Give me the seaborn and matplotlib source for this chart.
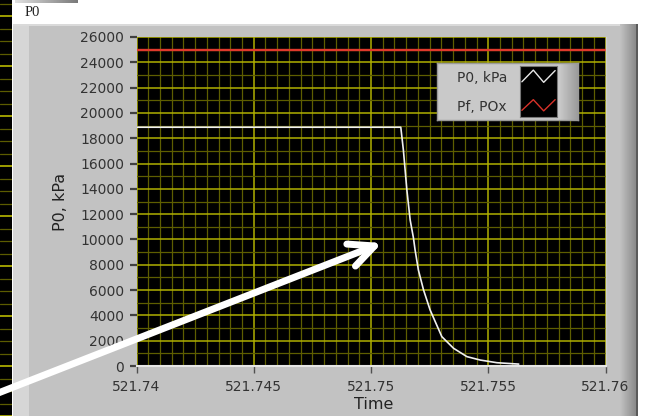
import numpy as np
import seaborn as sns
import matplotlib.pyplot as plt
from matplotlib.patches import Rectangle, FancyArrowPatch
from matplotlib.colors import LinearSegmentedColormap
from matplotlib.ticker import MultipleLocator

# P0 trace (time in s, pressure in kPa)
time_p0 = [521.74, 521.75127, 521.75138, 521.75153, 521.75167, 521.75181,
           521.75188, 521.75202, 521.75224, 521.75252, 521.75302, 521.75352,
           521.75409, 521.75466, 521.75537, 521.7563]
p0_kpa = [18870, 18870, 17080, 13900, 11540, 10120, 9170, 7590, 6010,
          4430, 2320, 1400, 740, 470, 260, 150]

# Pf, POx reference line
time_pf = [521.74, 521.76]
pf_pox = [25000, 25000]

x_ticks = [521.74, 521.745, 521.75, 521.755, 521.76]
x_tick_labels = ["521.74", "521.745", "521.75", "521.755", "521.76"]
y_ticks = list(range(0, 26001, 2000))
legend_labels = ["P0, kPa", "Pf, POx"]

sns.set_style("dark")
plt.rcParams['font.family'] = ['DejaVu Sans']

W, H = 649, 416


def px(x0, y0, x1, y1):
    """pixel box (top-left origin) -> figure fraction rect"""
    return [x0 / W, 1 - y1 / H, (x1 - x0) / W, (y1 - y0) / H]


def shade(a, c0, c1, n=60):
    """fill an axes with a left-to-right grey gradient"""
    cmap = LinearSegmentedColormap.from_list("g", [c0, c1])
    a.imshow(np.linspace(0, 1, n)[None, :], cmap=cmap, aspect='auto',
             extent=(0, 1, 0, 1))
    a.axis('off')


fig = plt.figure(figsize=(W / 100, H / 100), dpi=100, facecolor='white')

# grey front panel
fig.add_artist(Rectangle((13 / W, 0), (637 - 13) / W, (H - 24) / H,
                         transform=fig.transFigure, fc='#c2c2c2', ec='none', zorder=-3))
fig.add_artist(Rectangle((13 / W, 0), 16 / W, (H - 24) / H,
                         transform=fig.transFigure, fc='#d6d6d6', ec='none', zorder=-2))
fig.add_artist(Rectangle((13 / W, (H - 26) / H), (637 - 13) / W, 2 / H,
                         transform=fig.transFigure, fc='#dadada', ec='none', zorder=-2))
shade(fig.add_axes(px(620, 24, 636, 416)), '#c2c2c2', '#8a8a8a')
fig.add_artist(Rectangle((636 / W, 0), 1.5 / W, (H - 24) / H,
                         transform=fig.transFigure, fc='#5a5a5a', ec='none', zorder=2))

# bit of another graph peeking in at the left
strip = fig.add_axes(px(0, 0, 12, 416))
strip.set_facecolor('black')
strip.set_ylim(0, 416)
strip.yaxis.set_major_locator(MultipleLocator(50))
strip.yaxis.set_minor_locator(MultipleLocator(12.5))
strip.grid(which='major', axis='y', color='#b8b800', lw=1.2)
strip.grid(which='minor', axis='y', color='#5c5c00', lw=0.9)
strip.set_xticks([])
strip.tick_params(which='both', left=False, labelleft=False)
for s in strip.spines.values():
    s.set_visible(False)

# little slider bar at the top left
shade(fig.add_axes(px(15, 0, 78, 3)), '#e0e0e0', '#7a7a7a')

fig.text(25 / W, 1 - 13 / H, "P0", family='Liberation Serif', fontsize=10.5,
         va='center', ha='left', color='#222222')

# main graph
ax = fig.add_axes(px(136.5, 37, 605.5, 366))
ax.set_facecolor('black')
ax.set_axisbelow(True)

sns.lineplot(x=time_pf, y=pf_pox, ax=ax, color='#e0392c', lw=1.7)
sns.lineplot(x=time_p0, y=p0_kpa, ax=ax, color='#f0f0f0', lw=1.2)

ax.set_xlim(521.74, 521.76)
ax.set_ylim(0, 26000)
ax.set_xticks(x_ticks, x_tick_labels)
ax.set_yticks(y_ticks, [str(v) for v in y_ticks])
ax.xaxis.set_minor_locator(MultipleLocator(0.0005))
ax.yaxis.set_minor_locator(MultipleLocator(1000))
ax.grid(which='major', color='#b0b000', lw=1.1)
ax.grid(which='minor', color='#5e5e00', lw=0.9)
ax.tick_params(which='minor', length=0)
ax.tick_params(axis='y', which='major', length=5, width=1.6, color='#404040',
               pad=4, labelsize=10, labelcolor='#333333', left=True)
ax.tick_params(axis='x', which='major', length=5, width=1, color='#505050',
               pad=5, labelsize=10, labelcolor='#333333', bottom=True)

for side in ['top', 'left']:
    ax.spines[side].set_visible(False)
ax.spines['bottom'].set_color('#e6e6e6')
ax.spines['bottom'].set_linewidth(1.5)
ax.spines['right'].set_color('#d0d0d0')
ax.spines['right'].set_linewidth(1.0)

ax.set_xlabel("Time", fontsize=11.5, color='#222222')
ax.set_ylabel("P0, kPa", fontsize=11.5, color='#222222')
ax.xaxis.set_label_coords(0.506, -0.095)
ax.yaxis.set_label_coords(-0.146, 0.5)

# plot legend box
lax = fig.add_axes(px(437, 63, 578, 120))
lax.set_facecolor('#c9c9c9')
lax.set_xlim(437, 578)
lax.set_ylim(120, 63)
lax.set_xticks([])
lax.set_yticks([])
for s in lax.spines.values():
    s.set_color('#9a9a9a')
    s.set_linewidth(1)
lax.imshow(np.linspace(0, 1, 30)[None, :],
           cmap=LinearSegmentedColormap.from_list("l", ['#cfcfcf', '#9c9c9c']),
           aspect='auto', extent=(557, 578, 120, 63))
lax.text(457, 78, legend_labels[0], fontsize=10, color='#333333', va='center')
lax.text(457, 107, legend_labels[1], fontsize=10, color='#333333', va='center')

sax = fig.add_axes(px(520, 66, 557, 117))
sax.set_facecolor('black')
sax.set_xlim(0, 1)
sax.set_ylim(0, 1)
zig_x = [0.05, 0.36, 0.64, 0.95]
sax.plot(zig_x, [0.69, 0.92, 0.68, 0.91], color='#e8e8e8', lw=1)
sax.plot(zig_x, [0.13, 0.34, 0.12, 0.34], color='#d8322a', lw=1)
sax.set_xticks([])
sax.set_yticks([])
for s in sax.spines.values():
    s.set_color('#777777')
    s.set_linewidth(0.8)

# big white annotation arrow
arrow = FancyArrowPatch((-12 / W, 1 - 397 / H), (382 / W, 1 - 243 / H),
                        transform=fig.transFigure,
                        arrowstyle='->,head_length=18,head_width=8.5',
                        color='white', lw=5, shrinkA=0, shrinkB=0,
                        capstyle='round', joinstyle='round', zorder=20)
fig.add_artist(arrow)

fig.savefig("out.png", dpi=100, facecolor='white')
